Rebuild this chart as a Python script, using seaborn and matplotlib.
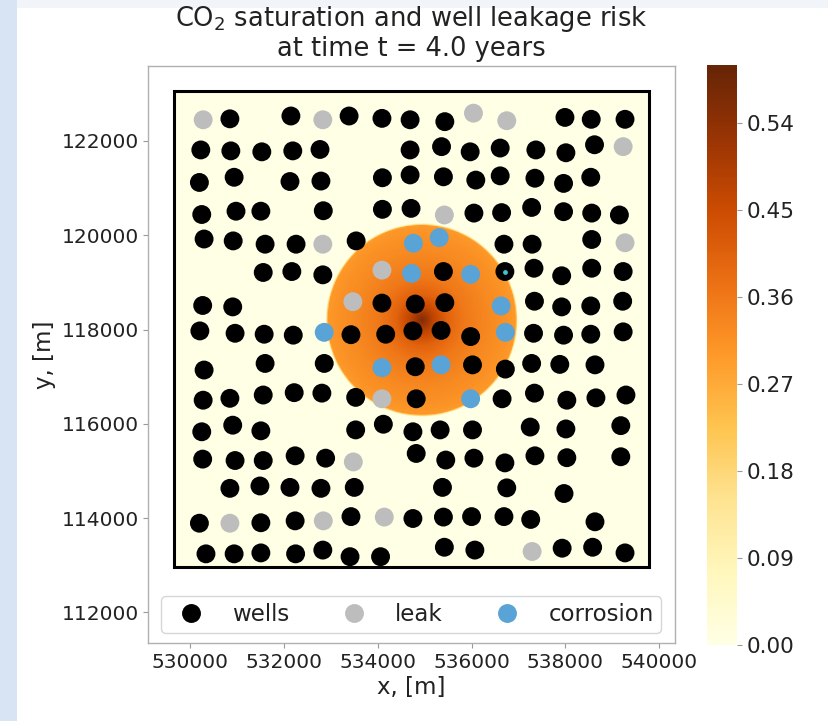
import numpy as np
import pandas as pd
import seaborn as sns
import matplotlib.pyplot as plt
from matplotlib.patches import Rectangle

# Poços ativos (coordenadas em metros)
wells_x = [530850, 532150, 533390, 534090, 534690, 535430, 537990, 538550, 539270,
           530230, 530870, 531530, 532190, 532770, 534690, 535360, 535970, 536610, 537370, 538010, 538620,
           530200, 530940, 532130, 532790, 534100, 534690, 535400, 536090, 536610, 537350, 537960, 538540,
           530250, 530980, 531510, 532840, 534100, 534710, 536050, 536640, 537280, 537960, 538560, 539150,
           530300, 530920, 531600, 532260, 533540, 536690, 537290, 538560,
           531560, 532170, 532830, 535400, 536710, 537330, 537920, 538560, 539230,
           530270, 530910, 534090, 534800, 535430, 537340, 537920, 538540, 539220,
           530210, 530960, 531580, 532200, 533430, 534170, 534750, 535350, 535980, 537320, 537960, 538540, 539230,
           530300, 531600, 532860, 534800, 536020, 536720, 537280, 537880, 538630,
           530280, 530850, 531560, 532220, 532810, 533530, 534820, 536650, 537340, 538030, 538650, 539290,
           530250, 530910, 531510, 533530, 534120, 534750, 535330, 536020, 537250, 538010, 539180,
           530270, 530960, 531560, 532240, 532890, 534820, 535450, 536050, 536710, 537350, 538030, 539180,
           530850, 531490, 532130, 532790, 533500, 535380, 536750, 537970,
           530200, 531510, 532240, 533430, 534750, 535400, 536000, 536690, 537260, 538630,
           530340, 530940, 531510, 532250, 532830, 533410, 534060, 535420, 536070, 537930, 538580, 539270]
wells_y = [122470, 122530, 122530, 122480, 122450, 122410, 122500, 122460, 122460,
           121810, 121790, 121770, 121790, 121820, 121810, 121880, 121770, 121850, 121810, 121750, 121920,
           121120, 121230, 121140, 121150, 121220, 121280, 121240, 121170, 121260, 121210, 121100, 121230,
           120440, 120510, 120510, 120520, 120550, 120570, 120470, 120480, 120590, 120500, 120470, 120430,
           119920, 119880, 119810, 119810, 119880, 119810, 119810, 119910,
           119210, 119230, 119160, 119230, 119230, 119300, 119140, 119300, 119230,
           118510, 118480, 118560, 118540, 118570, 118600, 118480, 118500, 118600,
           117970, 117920, 117900, 117880, 117890, 117900, 117970, 117980, 117850, 117920, 117880, 117900, 117950,
           117140, 117280, 117280, 117210, 117250, 117160, 117280, 117260, 117250,
           116500, 116540, 116610, 116660, 116650, 116560, 116530, 116530, 116650, 116500, 116550, 116610,
           115830, 115970, 115850, 115870, 115990, 115830, 115870, 115870, 115930, 115890, 115960,
           115250, 115220, 115220, 115320, 115270, 115370, 115230, 115270, 115170, 115320, 115280, 115300,
           114630, 114680, 114650, 114630, 114650, 114650, 114640, 114520,
           113890, 113900, 113940, 114030, 113990, 114020, 114030, 114030, 113970, 113920,
           113240, 113240, 113260, 113240, 113320, 113180, 113180, 113380, 113320, 113360, 113380, 113260]

# Poços com vazamento
leak_x = [530280, 532830, 536040, 536750, 539230, 535420, 532830, 539270, 534090,
          533470, 534090, 533480, 530850, 532840, 534140, 537290]
leak_y = [122450, 122450, 122590, 122430, 121880, 120430, 119810, 119840, 119260,
          118590, 116530, 115190, 113890, 113940, 114020, 113290]

# Poços com corrosão
corrosion_x = [534760, 535310, 534720, 535980, 536630, 532860, 536720, 534090, 535350, 535980]
corrosion_y = [119830, 119950, 119190, 119170, 118500, 117940, 117940, 117190, 117250, 116530]
corrosion_small_x = [536710]
corrosion_small_y = [119230]

# Domínio e pluma de CO2 (perfil radial)
domain_x = [529650, 539790]
domain_y = [112970, 123070]
plume_center = [534930, 118200]
plume_r = [0, 250, 550, 900, 1400, 1850, 2010, 2050]
plume_sat = [0.56, 0.47, 0.40, 0.36, 0.33, 0.31, 0.30, 0.0]
sat_max = 0.6
cbar_ticks = [0.0, 0.09, 0.18, 0.27, 0.36, 0.45, 0.54]

# Configurações visuais
sns.set_style("white")
plt.rcParams.update({
    'font.size': 14.5,
    'axes.edgecolor': '#b0b0b0',
    'axes.linewidth': 1.0,
    'xtick.bottom': True,
    'ytick.left': True,
    'xtick.color': '#999999',
    'ytick.color': '#999999',
    'xtick.labelcolor': '#222222',
    'ytick.labelcolor': '#222222',
    'xtick.labelsize': 14.5,
    'ytick.labelsize': 14.5,
    'axes.labelcolor': '#222222',
    'text.color': '#222222',
})
plt.rcParams['font.family'] = ['DejaVu Sans']

W, H = 829, 721
fig = plt.figure(figsize=(W / 100, H / 100), dpi=100)

# faixa azulada da captura original
fig.patches.append(Rectangle((0, 0), 17 / W, 1, transform=fig.transFigure,
                             facecolor='#d8e4f3', edgecolor='none', zorder=-5))
fig.patches.append(Rectangle((17 / W, 1 - 8 / H), 1, 8 / H, transform=fig.transFigure,
                             facecolor='#f1f4f9', edgecolor='none', zorder=-5))

ax = fig.add_axes([148.3 / W, (H - 643.3) / H, 526.7 / W, 577.3 / H])

# campo de saturação
gx = np.linspace(domain_x[0], domain_x[1], 400)
gy = np.linspace(domain_y[0], domain_y[1], 400)
GX, GY = np.meshgrid(gx, gy)
R = np.hypot(GX - plume_center[0], GY - plume_center[1])
sat = np.interp(R, plume_r, plume_sat)
im = ax.imshow(sat, extent=[domain_x[0], domain_x[1], domain_y[0], domain_y[1]],
               origin='lower', cmap='YlOrBr', vmin=0, vmax=sat_max,
               aspect='auto', interpolation='bilinear', zorder=1)
ax.add_patch(Rectangle((domain_x[0], domain_y[0]), domain_x[1] - domain_x[0],
                       domain_y[1] - domain_y[0], fill=False, edgecolor='black',
                       linewidth=2.2, zorder=3))

df = pd.concat([
    pd.DataFrame({'x': wells_x, 'y': wells_y, 'tipo': 'wells'}),
    pd.DataFrame({'x': leak_x, 'y': leak_y, 'tipo': 'leak'}),
    pd.DataFrame({'x': corrosion_x, 'y': corrosion_y, 'tipo': 'corrosion'}),
], ignore_index=True)

sns.scatterplot(data=df, x='x', y='y', hue='tipo', hue_order=['wells', 'leak', 'corrosion'],
                palette={'wells': 'black', 'leak': '#bdbdbd', 'corrosion': '#5aa3d6'},
                s=185, linewidth=0, ax=ax, zorder=4)
ax.scatter(corrosion_small_x, corrosion_small_y, s=12, color='#3ec4d8', linewidth=0, zorder=5)

ax.set_xlim(529111, 540335)
ax.set_ylim(111342, 123591)
ax.set_xticks([530000, 532000, 534000, 536000, 538000, 540000])
ax.set_yticks([112000, 114000, 116000, 118000, 120000, 122000])
ax.ticklabel_format(useOffset=False, style='plain')
ax.set_xlabel('x, [m]', fontsize=16.5, labelpad=3)
ax.set_ylabel('y, [m]', fontsize=16.5)
ax.set_title('CO$_2$ saturation and well leakage risk\nat time t = 4.0 years',
             fontsize=18.5, linespacing=1.1, pad=7)

sns.move_legend(ax, 'lower left', bbox_to_anchor=(0.024, 0.018, 0.949, 0.069),
                mode='expand', ncol=3, title=None, frameon=True, fontsize=16.5,
                borderaxespad=0, borderpad=0.3)

cax = fig.add_axes([707 / W, (H - 645) / H, 30 / W, 580 / H])
cb = fig.colorbar(im, cax=cax, ticks=cbar_ticks)
cb.ax.yaxis.set_major_formatter('{x:.2f}')
cb.outline.set_visible(False)
cb.ax.tick_params(labelsize=15.5)

fig.savefig('out.png', dpi=100)
